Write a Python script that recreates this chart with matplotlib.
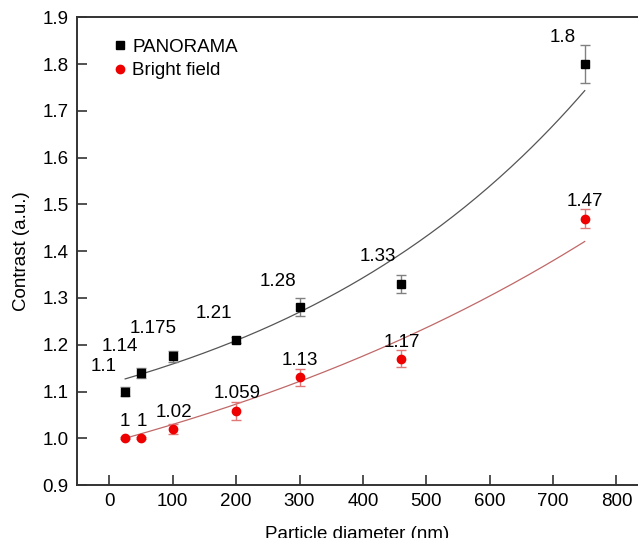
import numpy as np
from matplotlib import pyplot as plt

plt.rcParams['font.family'] = ['Liberation Sans', 'DejaVu Sans']

# Particle diameters (nm)
diam = np.array([25, 50, 100, 200, 300, 460, 750])

# PANORAMA contrast and error
pano = np.array([1.1, 1.14, 1.175, 1.21, 1.28, 1.33, 1.8])
pano_err = np.array([0.01, 0.011, 0.011, 0.007, 0.019, 0.019, 0.041])
pano_labels = ["1.1", "1.14", "1.175", "1.21", "1.28", "1.33", "1.8"]

# Bright field contrast and error
bf = np.array([1.0, 1.0, 1.02, 1.059, 1.13, 1.17, 1.47])
bf_err = np.array([0.002, 0.002, 0.011, 0.019, 0.018, 0.018, 0.02])
bf_labels = ["1", "1", "1.02", "1.059", "1.13", "1.17", "1.47"]

# exponential growth fits y = y0 + A*exp(x/t), parameters
fit_pano = (0.9185, 0.1988, 527.0)
fit_bf = (0.660, 0.3307, 900.0)

xfit = np.linspace(diam.min(), diam.max(), 200)
yfit_p = fit_pano[0] + fit_pano[1] * np.exp(xfit / fit_pano[2])
yfit_b = fit_bf[0] + fit_bf[1] * np.exp(xfit / fit_bf[2])

fs = 13.5

fig = plt.figure(figsize=(6.38, 5.38), dpi=100)
ax = fig.add_axes([0.1207, 0.0985, 0.8793, 0.869])

ax.plot(xfit, yfit_p, color='#555555', lw=0.9)
ax.plot(xfit, yfit_b, color='#c06868', lw=0.9)

ax.errorbar(diam, pano, yerr=pano_err, fmt='s', color='black', ms=5.3,
            ecolor='#808080', elinewidth=1, capsize=3.4, capthick=1)
ax.errorbar(diam, bf, yerr=bf_err, fmt='o', color='#ee0000', ms=6,
            ecolor='#e07878', elinewidth=1, capsize=3.4, capthick=1)

# legend handles: markers only
ax.plot([], [], 's', color='black', ms=5.3, label='PANORAMA')
ax.plot([], [], 'o', color='#ee0000', ms=6, label='Bright field')

# value labels
pano_lx = [-9, 17, 69, 165, 266, 424, 715]
pano_ly = [1.153, 1.196, 1.234, 1.266, 1.335, 1.388, 1.857]
bf_lx = [24.5, 51, 102.5, 202, 300.5, 461, 750]
bf_ly = [1.036, 1.036, 1.055, 1.095, 1.166, 1.205, 1.507]
for lx, ly, s in zip(pano_lx, pano_ly, pano_labels):
    ax.text(lx, ly, s, ha='center', va='center', fontsize=fs)
for lx, ly, s in zip(bf_lx, bf_ly, bf_labels):
    ax.text(lx, ly, s, ha='center', va='center', fontsize=fs)

ax.set_xlim(-51, 834)
ax.set_ylim(0.9, 1.9)
ax.set_xticks(range(0, 801, 100))
ax.set_yticks(np.arange(0.9, 1.91, 0.1))
ax.set_yticklabels(["%.1f" % v for v in np.arange(0.9, 1.91, 0.1)])
ax.tick_params(direction='in', length=7, width=1.2, labelsize=fs, color='#333333', pad=6)
ax.spines['right'].set_visible(False)
for s in ['left', 'bottom', 'top']:
    ax.spines[s].set_linewidth(1.4)
    ax.spines[s].set_color('#333333')

ax.set_xlabel("Particle diameter (nm)", fontsize=fs, labelpad=11.5)
ax.set_ylabel("Contrast (a.u.)", fontsize=fs, labelpad=9)

ax.legend(loc='upper left', bbox_to_anchor=(0.030, 0.991), frameon=False,
          fontsize=fs, handletextpad=0.15, handlelength=1.0, labelspacing=0.35)

fig.savefig("out.png", dpi=100)
